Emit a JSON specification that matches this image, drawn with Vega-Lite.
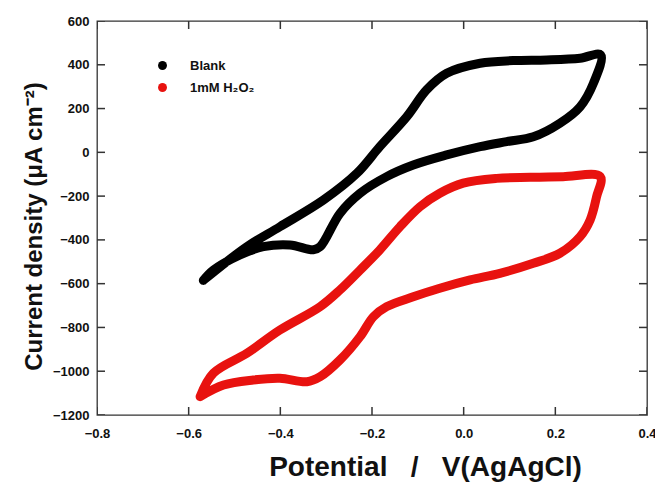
{
  "$schema": "https://vega.github.io/schema/vega-lite/v6.json",
  "width": 550,
  "height": 394,
  "autosize": "none",
  "padding": {"left": 97, "top": 21, "right": 8, "bottom": 67},
  "background": "white",
  "config": {
    "font": "Liberation Sans",
    "view": {"stroke": "#333", "strokeWidth": 1.3},
    "axis": {
      "domain": false,
      "ticks": false,
      "grid": false,
      "labelFont": "Liberation Sans",
      "labelFontWeight": "bold",
      "labelFontSize": 13,
      "labelColor": "#111",
      "labelFlush": false,
      "labelOverlap": false,
      "labelBound": false,
      "titleFont": "Liberation Sans",
      "titleFontWeight": "bold",
      "titleColor": "#111"
    }
  },
  "datasets": {
    "xticks": [{"E": -0.8}, {"E": -0.6}, {"E": -0.4}, {"E": -0.2}, {"E": 0}, {"E": 0.2}, {"E": 0.4}],
    "yticks": [{"J": -1200}, {"J": -1000}, {"J": -800}, {"J": -600}, {"J": -400}, {"J": -200}, {"J": 0}, {"J": 200}, {"J": 400}, {"J": 600}],
    "cv": [
      {"series": "Blank", "i": 0, "E": -0.568, "J": -585},
      {"series": "Blank", "i": 1, "E": -0.473, "J": -431},
      {"series": "Blank", "i": 2, "E": -0.401, "J": -340},
      {"series": "Blank", "i": 3, "E": -0.306, "J": -218},
      {"series": "Blank", "i": 4, "E": -0.233, "J": -96},
      {"series": "Blank", "i": 5, "E": -0.183, "J": 26},
      {"series": "Blank", "i": 6, "E": -0.124, "J": 163},
      {"series": "Blank", "i": 7, "E": -0.081, "J": 285},
      {"series": "Blank", "i": 8, "E": -0.037, "J": 361},
      {"series": "Blank", "i": 9, "E": 0.036, "J": 407},
      {"series": "Blank", "i": 10, "E": 0.108, "J": 419},
      {"series": "Blank", "i": 11, "E": 0.181, "J": 422},
      {"series": "Blank", "i": 12, "E": 0.254, "J": 430},
      {"series": "Blank", "i": 13, "E": 0.299, "J": 445},
      {"series": "Blank", "i": 14, "E": 0.283, "J": 315},
      {"series": "Blank", "i": 15, "E": 0.254, "J": 208},
      {"series": "Blank", "i": 16, "E": 0.21, "J": 133},
      {"series": "Blank", "i": 17, "E": 0.152, "J": 71},
      {"series": "Blank", "i": 18, "E": 0.094, "J": 49},
      {"series": "Blank", "i": 19, "E": 0.036, "J": 26},
      {"series": "Blank", "i": 20, "E": -0.037, "J": -12},
      {"series": "Blank", "i": 21, "E": -0.11, "J": -58},
      {"series": "Blank", "i": 22, "E": -0.168, "J": -111},
      {"series": "Blank", "i": 23, "E": -0.226, "J": -187},
      {"series": "Blank", "i": 24, "E": -0.27, "J": -279},
      {"series": "Blank", "i": 25, "E": -0.313, "J": -431},
      {"series": "Blank", "i": 26, "E": -0.328, "J": -445},
      {"series": "Blank", "i": 27, "E": -0.379, "J": -423},
      {"series": "Blank", "i": 28, "E": -0.437, "J": -431},
      {"series": "Blank", "i": 29, "E": -0.488, "J": -469},
      {"series": "Blank", "i": 30, "E": -0.546, "J": -538},
      {"series": "Blank", "i": 31, "E": -0.568, "J": -585},
      {"series": "1mM H₂O₂", "i": 0, "E": -0.575, "J": -1116},
      {"series": "1mM H₂O₂", "i": 1, "E": -0.546, "J": -1009},
      {"series": "1mM H₂O₂", "i": 2, "E": -0.473, "J": -918},
      {"series": "1mM H₂O₂", "i": 3, "E": -0.401, "J": -812},
      {"series": "1mM H₂O₂", "i": 4, "E": -0.313, "J": -705},
      {"series": "1mM H₂O₂", "i": 5, "E": -0.27, "J": -629},
      {"series": "1mM H₂O₂", "i": 6, "E": -0.226, "J": -538},
      {"series": "1mM H₂O₂", "i": 7, "E": -0.183, "J": -446},
      {"series": "1mM H₂O₂", "i": 8, "E": -0.139, "J": -340},
      {"series": "1mM H₂O₂", "i": 9, "E": -0.095, "J": -248},
      {"series": "1mM H₂O₂", "i": 10, "E": -0.052, "J": -187},
      {"series": "1mM H₂O₂", "i": 11, "E": -0.001, "J": -141},
      {"series": "1mM H₂O₂", "i": 12, "E": 0.072, "J": -119},
      {"series": "1mM H₂O₂", "i": 13, "E": 0.145, "J": -114},
      {"series": "1mM H₂O₂", "i": 14, "E": 0.217, "J": -111},
      {"series": "1mM H₂O₂", "i": 15, "E": 0.298, "J": -111},
      {"series": "1mM H₂O₂", "i": 16, "E": 0.29, "J": -203},
      {"series": "1mM H₂O₂", "i": 17, "E": 0.276, "J": -309},
      {"series": "1mM H₂O₂", "i": 18, "E": 0.254, "J": -385},
      {"series": "1mM H₂O₂", "i": 19, "E": 0.21, "J": -461},
      {"series": "1mM H₂O₂", "i": 20, "E": 0.152, "J": -507},
      {"series": "1mM H₂O₂", "i": 21, "E": 0.079, "J": -553},
      {"series": "1mM H₂O₂", "i": 22, "E": 0.014, "J": -583},
      {"series": "1mM H₂O₂", "i": 23, "E": -0.052, "J": -621},
      {"series": "1mM H₂O₂", "i": 24, "E": -0.11, "J": -660},
      {"series": "1mM H₂O₂", "i": 25, "E": -0.168, "J": -705},
      {"series": "1mM H₂O₂", "i": 26, "E": -0.197, "J": -751},
      {"series": "1mM H₂O₂", "i": 27, "E": -0.226, "J": -842},
      {"series": "1mM H₂O₂", "i": 28, "E": -0.27, "J": -949},
      {"series": "1mM H₂O₂", "i": 29, "E": -0.313, "J": -1025},
      {"series": "1mM H₂O₂", "i": 30, "E": -0.342, "J": -1048},
      {"series": "1mM H₂O₂", "i": 31, "E": -0.401, "J": -1032},
      {"series": "1mM H₂O₂", "i": 32, "E": -0.459, "J": -1040},
      {"series": "1mM H₂O₂", "i": 33, "E": -0.524, "J": -1063},
      {"series": "1mM H₂O₂", "i": 34, "E": -0.575, "J": -1116}
    ]
  },
  "layer": [
    {
      "data": {"name": "cv"},
      "mark": {"type": "line", "strokeWidth": 9, "strokeCap": "round", "strokeJoin": "round", "interpolate": "catmull-rom"},
      "encoding": {
        "x": {
          "field": "E", "type": "quantitative",
          "scale": {"domain": [-0.8, 0.4], "nice": false, "zero": false},
          "axis": {
            "orient": "bottom",
            "values": [-0.8, -0.6, -0.4, -0.2, 0, 0.2, 0.4],
            "format": ".1f",
            "labelPadding": 12,
            "title": "Potential\u00a0\u00a0\u00a0/\u00a0\u00a0\u00a0V(AgAgCl)",
            "titleFontSize": 28,
            "titleX": 328,
            "titleY": 52,
            "titleBaseline": "middle",
            "titleAnchor": null
          }
        },
        "y": {
          "field": "J", "type": "quantitative",
          "scale": {"domain": [-1200, 600], "nice": false, "zero": false},
          "axis": {
            "orient": "left",
            "values": [-1200, -1000, -800, -600, -400, -200, 0, 200, 400, 600],
            "format": "d",
            "labelPadding": 8,
            "title": "Current density (μA cm⁻²)",
            "titleFontSize": 24,
            "titleX": -63,
            "titleY": 205,
            "titleAngle": -90,
            "titleBaseline": "middle",
            "titleAnchor": null
          }
        },
        "color": {
          "field": "series", "type": "nominal",
          "scale": {"domain": ["Blank", "1mM H₂O₂"], "range": ["#000000", "#e8120f"]},
          "legend": {
            "title": null,
            "orient": "none",
            "legendX": 59,
            "legendY": 38,
            "symbolType": "circle",
            "symbolSize": 80,
            "symbolStrokeWidth": 0,
            "labelFont": "Liberation Sans",
            "labelFontWeight": "bold",
            "labelFontSize": 13,
            "labelColor": "#111",
            "labelOffset": 21,
            "rowPadding": 8,
            "padding": 0,
            "encode": {
              "symbols": {
                "update": {
                  "fill": {"scale": "color", "field": "value"},
                  "strokeWidth": {"value": 0}
                }
              }
            }
          }
        },
        "detail": {"field": "series"},
        "order": {"field": "i", "type": "quantitative"}
      }
    },
    {
      "data": {"name": "xticks"},
      "mark": {"type": "tick", "orient": "vertical", "size": 16, "thickness": 1.5, "color": "#333", "opacity": 1, "clip": true},
      "encoding": {
        "x": {"field": "E", "type": "quantitative"},
        "y": {"datum": -1200}
      }
    },
    {
      "data": {"name": "xticks"},
      "mark": {"type": "tick", "orient": "vertical", "size": 16, "thickness": 1.5, "color": "#333", "opacity": 1, "clip": true},
      "encoding": {
        "x": {"field": "E", "type": "quantitative"},
        "y": {"datum": 600}
      }
    },
    {
      "data": {"name": "yticks"},
      "mark": {"type": "tick", "orient": "horizontal", "size": 16, "thickness": 1.5, "color": "#333", "opacity": 1, "clip": true},
      "encoding": {
        "y": {"field": "J", "type": "quantitative"},
        "x": {"datum": -0.8}
      }
    },
    {
      "data": {"name": "yticks"},
      "mark": {"type": "tick", "orient": "horizontal", "size": 16, "thickness": 1.5, "color": "#333", "opacity": 1, "clip": true},
      "encoding": {
        "y": {"field": "J", "type": "quantitative"},
        "x": {"datum": 0.4}
      }
    }
  ]
}
